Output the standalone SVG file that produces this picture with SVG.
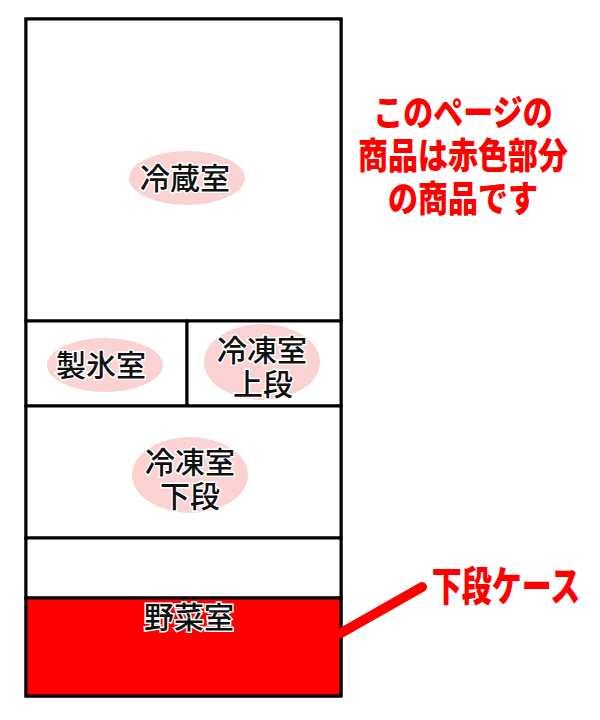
<svg xmlns="http://www.w3.org/2000/svg" width="600" height="720" viewBox="0 0 600 720">
<style>
.box{fill:#fff;stroke:#000;stroke-width:3}
.blob{fill:#fbd2d2}
.lbl{font-family:"Liberation Sans","Noto Sans CJK JP",sans-serif;font-size:30px;font-weight:500;fill:#111;stroke:#fff;stroke-width:3;paint-order:stroke;text-anchor:middle}
.note{font-family:"Liberation Sans","Noto Sans CJK JP",sans-serif;font-size:30px;font-weight:900;fill:#f00;text-anchor:middle}
</style>
<rect width="600" height="720" fill="#fff"/>
<g id="fridge">
<rect class="box" x="26" y="19" width="315" height="677"/>
</g>
<g id="reizo">
<rect class="box" x="26" y="19" width="315" height="302"/>
<ellipse class="blob" cx="187" cy="178" rx="58" ry="27"/>
<text class="lbl" x="185" y="189">冷蔵室</text>
</g>
<g id="seihyo">
<rect class="box" x="26" y="321" width="161" height="85"/>
<ellipse class="blob" cx="105" cy="365" rx="58" ry="27"/>
<text class="lbl" x="101" y="376">製氷室</text>
</g>
<g id="reito-jo">
<rect class="box" x="187" y="321" width="154" height="85"/>
<ellipse class="blob" cx="262" cy="362" rx="58" ry="38"/>
<text class="lbl" x="262" y="361">冷凍室<tspan x="263" dy="34">上段</tspan></text>
</g>
<g id="reito-ge">
<rect class="box" x="26" y="406" width="315" height="132"/>
<ellipse class="blob" cx="190" cy="475" rx="58" ry="38"/>
<text class="lbl" x="190" y="473">冷凍室<tspan x="190" dy="34">下段</tspan></text>
</g>
<g id="yasai-upper">
<rect class="box" x="26" y="538" width="315" height="60"/>
</g>
<g id="yasai-case">
<rect x="26" y="598" width="315" height="98" fill="#f00" stroke="#000" stroke-width="3"/>
<text class="lbl" x="189" y="628">野菜室</text>
</g>
<g id="connectors">
<line x1="341" y1="633" x2="422" y2="587" stroke="#f00" stroke-width="10" stroke-linecap="round"/>
</g>
<g id="callout">
<text class="note" transform="translate(506,601) scale(1,1.35)" x="0" y="0">下段ケース</text>
</g>
<g id="notice">
<text class="note" transform="translate(463,126) scale(1,1.2)" x="0" y="0">このページの</text>
<text class="note" transform="translate(463,169) scale(1,1.2)" x="0" y="0">商品は赤色部分</text>
<text class="note" transform="translate(463,212) scale(1,1.2)" x="0" y="0">の商品です</text>
</g>
</svg>
